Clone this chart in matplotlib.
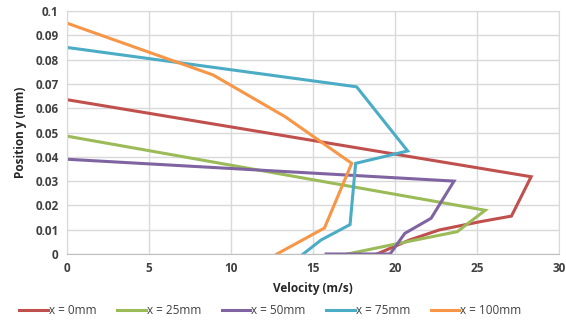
import numpy as np
import matplotlib.pyplot as plt

plt.rcParams['font.family'] = ['Open Sans', 'DejaVu Sans']

# velocity (m/s) and position y (mm) for each station
v_0mm = [18.9, 20.9, 22.7, 25.2, 27.1, 28.3, 0.0]
y_0mm = [0.0, 0.0058, 0.0099, 0.0133, 0.0156, 0.0318, 0.0635]

v_25mm = [17.1, 20.4, 23.8, 25.5, 0.0]
y_25mm = [0.0, 0.0046, 0.0092, 0.018, 0.0485]

v_50mm = [15.8, 19.7, 20.6, 22.2, 23.6, 0.0]
y_50mm = [0.0, 0.0, 0.0085, 0.0147, 0.030, 0.039]

v_75mm = [14.4, 15.5, 17.26, 17.6, 20.77, 17.66, 0.0]
y_75mm = [0.0, 0.0058, 0.0121, 0.0373, 0.0424, 0.0688, 0.085]

v_100mm = [12.8, 15.7, 17.36, 13.3, 8.9, 0.0]
y_100mm = [0.0, 0.0107, 0.0373, 0.0565, 0.0737, 0.095]

labels = ['x = 0mm', 'x = 25mm', 'x = 50mm', 'x = 75mm', 'x = 100mm']
colors = ['#C0504D', '#9BBB59', '#8064A2', '#4BACC6', '#F79646']

series = [(v_0mm, y_0mm), (v_25mm, y_25mm), (v_50mm, y_50mm),
          (v_75mm, y_75mm), (v_100mm, y_100mm)]

fig = plt.figure(figsize=(5.66, 3.26), dpi=100)
ax = fig.add_axes([67 / 566, 1 - 254 / 326, (559 - 67) / 566, (254 - 11) / 326])

for (v, y), lab, c in zip(series, labels, colors):
    ax.plot(v, y, color=c, lw=2.2, label=lab, solid_joinstyle='miter')

ax.set_xlim(0, 30)
ax.set_ylim(0, 0.1)
ax.set_xticks(np.arange(0, 31, 5))
yt = np.round(np.arange(0, 0.101, 0.01), 2)
ax.set_yticks(yt)
ax.set_yticklabels(['0' if t == 0 else ('0.1' if t == 0.1 else f'{t:.2f}') for t in yt])
ax.grid(True, color='#d9d9d9', lw=1)
ax.set_axisbelow(True)
for s in ['top', 'right', 'left']:
    ax.spines[s].set_color('#d9d9d9')
ax.spines['bottom'].set_color('#bfbfbf')
ax.tick_params(length=0, labelsize=8.5, colors='#404040', pad=6)
for t in ax.get_xticklabels() + ax.get_yticklabels():
    t.set_fontweight('bold')

ax.set_xlabel('Velocity (m/s)', fontsize=8.5, fontweight='bold', color='#262626', labelpad=5)
ax.set_ylabel('Position y (mm)', fontsize=8.5, fontweight='bold', color='#262626', labelpad=6)

fig.legend(loc='center', bbox_to_anchor=(0.478, 1 - 311 / 326), ncol=5, frameon=False,
           fontsize=8.5, handlelength=2.4, handletextpad=0.1, columnspacing=1.75,
           labelcolor='#404040')

fig.savefig('out.png', dpi=100)
